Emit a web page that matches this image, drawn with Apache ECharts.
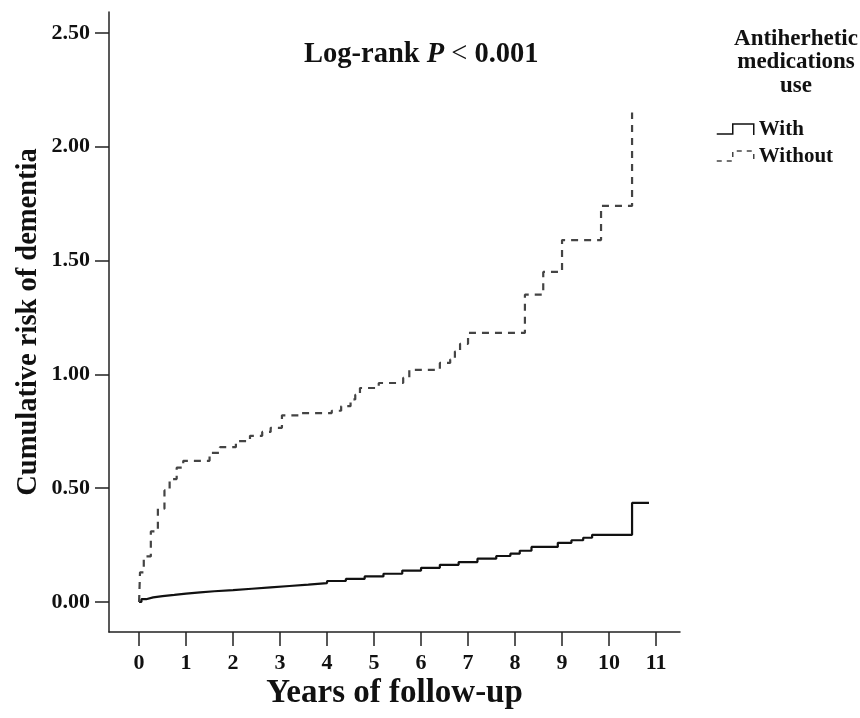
<!DOCTYPE html>
<html>
<head>
<meta charset="utf-8">
<script src="https://cdn.jsdelivr.net/npm/echarts@6/dist/echarts.min.js"></script>
<style>
  html, body { margin: 0; padding: 0; background: #fff; }
  #chart { width: 860px; height: 718px; }
</style>
</head>
<body>
<div id="chart"></div>
<script>
// cumulative risk curves (step functions)
var yearsWithout = [0, 0.02, 0.1, 0.25, 0.4, 0.54, 0.65, 0.8, 0.94, 1.5, 1.72, 2.06, 2.36, 2.62, 2.8, 3.04, 3.43,
  4.1, 4.3, 4.5, 4.6, 4.7, 5.1, 5.62, 5.75, 6.4, 6.62, 6.72, 6.83, 7.0, 8.21, 8.6, 9.0, 9.83, 10.49];
var riskWithout = [0, 0.13, 0.2, 0.31, 0.41, 0.49, 0.54, 0.59, 0.62, 0.655, 0.68, 0.707, 0.73, 0.747, 0.765, 0.82, 0.83,
  0.84, 0.86, 0.89, 0.91, 0.94, 0.962, 0.985, 1.02, 1.05, 1.065, 1.10, 1.134, 1.182, 1.35, 1.45, 1.59, 1.74, 2.15];

var yearsWith = [0, 0.05, 0.15, 0.3, 0.5, 0.75, 1.0, 1.3, 1.6, 2.0, 2.4, 2.8, 3.2, 3.6, 4.0, 4.4, 4.8, 5.2, 5.6,
  6.0, 6.4, 6.8, 7.2, 7.6, 7.9, 8.1, 8.35, 8.91, 9.2, 9.45, 9.64, 10.49, 10.85];
var riskWith = [0, 0.012, 0.02, 0.026, 0.031, 0.037, 0.042, 0.047, 0.052, 0.058, 0.064, 0.07, 0.076, 0.083, 0.092,
  0.101, 0.112, 0.124, 0.138, 0.15, 0.163, 0.175, 0.19, 0.202, 0.212, 0.225, 0.242, 0.26, 0.271, 0.282, 0.295, 0.435, 0.435];

var xTicks = [0, 1, 2, 3, 4, 5, 6, 7, 8, 9, 10, 11];
var yTicks = [0, 0.5, 1, 1.5, 2, 2.5];

var serif = '"Liberation Serif", "DejaVu Serif", serif';

function pairs(xs, ys) {
  var out = [];
  for (var i = 0; i < xs.length; i++) out.push([xs[i], ys[i]]);
  return out;
}

var myChart = echarts.init(document.getElementById('chart'));
var option = {
  backgroundColor: '#fff',
  animation: false,
  title: {
    text: '{a|Log-rank }{b|P}{c| < }{a|0.001}',
    left: 304,
    top: 40,
    padding: 0,
    textStyle: {
      rich: {
        a: { fontFamily: serif, fontWeight: 'bold', fontSize: 28.5, color: '#111' },
        b: { fontFamily: serif, fontWeight: 'bold', fontStyle: 'italic', fontSize: 28.5, color: '#111' },
        c: { fontFamily: serif, fontWeight: 'normal', fontSize: 28.5, color: '#111' }
      }
    }
  },
  graphic: [{
    type: 'text',
    x: 796,
    y: 27,
    style: {
      text: 'Antiherhetic\nmedications\nuse',
      fontFamily: serif,
      fontWeight: 'bold',
      fontSize: 23,
      lineHeight: 23.5,
      align: 'center',
      fill: '#111'
    }
  }],
  legend: {
    orient: 'vertical',
    left: 716,
    top: 119,
    padding: 0,
    itemWidth: 37,
    itemHeight: 12,
    itemGap: 6,
    textStyle: { fontFamily: serif, fontWeight: 'bold', fontSize: 21, color: '#111', lineHeight: 21 },
    data: [{
      name: 'With',
      icon: 'path://M0,11 L16,11 L16,1 L37,1 L37,12',
      itemStyle: { color: 'rgba(0,0,0,0)', borderColor: '#111', borderWidth: 1.5, borderType: 'solid' }
    }, {
      name: 'Without',
      icon: 'path://M0,11 L16,11 L16,1 L37,1 L37,12',
      itemStyle: { color: 'rgba(0,0,0,0)', borderColor: '#444', borderWidth: 1.5, borderType: [5, 5] }
    }]
  },
  grid: { left: 109, right: 180, top: 12, bottom: 86 },
  xAxis: {
    type: 'value',
    min: -0.64,
    max: 11.51,
    name: 'Years of follow-up',
    nameLocation: 'middle',
    nameGap: 45,
    nameMoveOverlap: false,
    nameTextStyle: { fontFamily: serif, fontWeight: 'bold', fontSize: 33, color: '#111' },
    axisLine: { onZero: false, lineStyle: { color: '#222', width: 1.5 } },
    axisTick: { customValues: xTicks, length: 14, lineStyle: { color: '#222', width: 1.5 } },
    axisLabel: {
      customValues: xTicks,
      margin: 20,
      fontFamily: serif, fontWeight: 'bold', fontSize: 22, color: '#111'
    },
    splitLine: { show: false }
  },
  yAxis: {
    type: 'value',
    min: -0.132,
    max: 2.592,
    name: 'Cumulative risk of dementia',
    nameLocation: 'middle',
    nameGap: 66,
    nameMoveOverlap: false,
    nameTextStyle: { fontFamily: serif, fontWeight: 'bold', fontSize: 28.5, color: '#111' },
    axisLine: { show: true, onZero: false, lineStyle: { color: '#222', width: 1.5 } },
    axisTick: { show: true, customValues: yTicks, length: 14, lineStyle: { color: '#222', width: 1.5 } },
    axisLabel: {
      customValues: yTicks,
      margin: 19,
      fontFamily: serif, fontWeight: 'bold', fontSize: 22, color: '#111',
      formatter: function (v) { return v.toFixed(2); }
    },
    splitLine: { show: false }
  },
  series: [{
    name: 'With',
    type: 'line',
    step: 'end',
    showSymbol: false,
    symbol: 'none',
    lineStyle: { color: '#111', width: 2.2 },
    itemStyle: { color: '#111' },
    data: pairs(yearsWith, riskWith)
  }, {
    name: 'Without',
    type: 'line',
    step: 'end',
    showSymbol: false,
    symbol: 'none',
    lineStyle: { color: '#444', width: 2.2, type: [7, 6] },
    itemStyle: { color: '#444' },
    data: pairs(yearsWithout, riskWithout)
  }]
};
myChart.setOption(option);
</script>
</body>
</html>
